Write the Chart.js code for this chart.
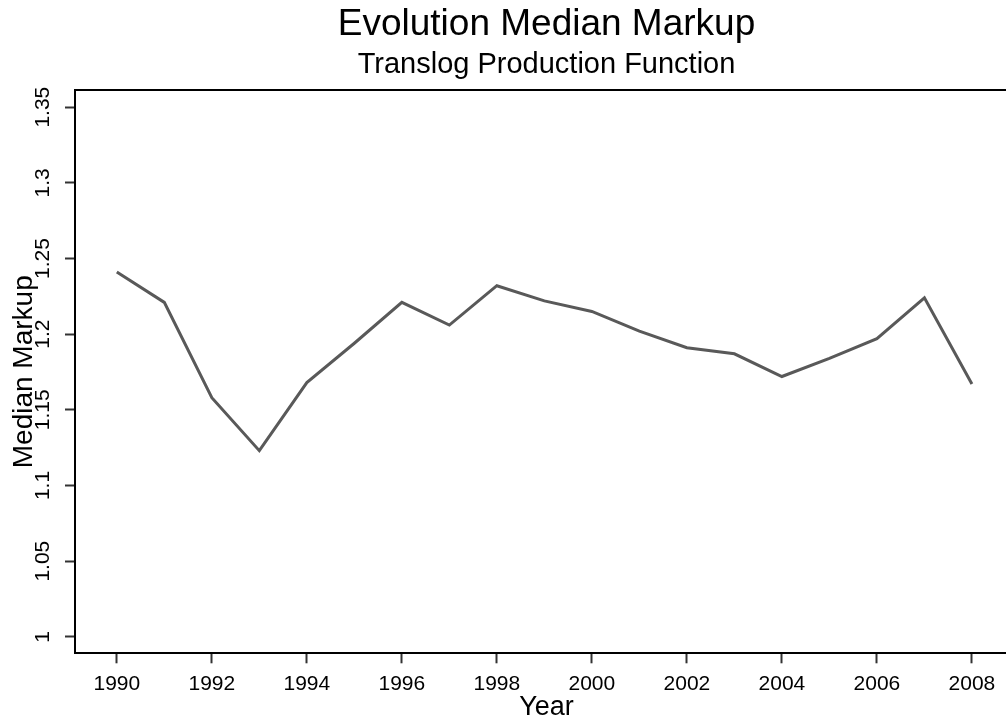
<!DOCTYPE html>
<html>
<head>
<meta charset="utf-8">
<title>Evolution Median Markup</title>
<script src="https://cdn.jsdelivr.net/npm/chart.js@4/dist/chart.umd.min.js"></script>
<style>
  html, body { margin: 0; padding: 0; background: #fff; overflow: hidden; }
  #wrap { width: 1018px; height: 722px; }
  canvas { display: block; }
</style>
</head>
<body>
<div id="wrap"><canvas id="markupChart" width="1018" height="722"></canvas></div>
<script>
// ==================== DATOS ====================
const years  = [1990, 1991, 1992, 1993, 1994, 1995, 1996, 1997, 1998, 1999,
                2000, 2001, 2002, 2003, 2004, 2005, 2006, 2007, 2008];
const markup = [1.241, 1.221, 1.158, 1.123, 1.168, 1.194, 1.221, 1.206, 1.232, 1.222,
                1.215, 1.202, 1.191, 1.187, 1.172, 1.184, 1.197, 1.224, 1.167];

const xTicks = [1990, 1992, 1994, 1996, 1998, 2000, 2002, 2004, 2006, 2008];
const yTicks = [1, 1.05, 1.1, 1.15, 1.2, 1.25, 1.3, 1.35];

const TITLE    = 'Evolution Median Markup';
const SUBTITLE = 'Translog Production Function';
const X_LABEL  = 'Year';
const Y_LABEL  = 'Median Markup';

// ==================== ESTILO ====================
const FONT = 'Liberation Sans, Arial, Helvetica, sans-serif';
const X_MIN = 1989.12, X_MAX = 2008.97;
const Y_MIN = 0.9891,  Y_MAX = 1.3612;

const points = years.map((y, i) => ({ x: y, y: markup[i] }));

new Chart(document.getElementById('markupChart'), {
  type: 'line',
  data: {
    datasets: [{
      data: points,
      borderColor: '#595959',
      borderWidth: 3,
      pointRadius: 0,
      tension: 0,
      fill: false
    }]
  },
  options: {
    responsive: false,
    animation: false,
    layout: { padding: 0 },
    plugins: {
      legend: { display: false },
      tooltip: { enabled: false },
      title: {
        display: true,
        text: TITLE,
        fullSize: false,
        color: '#000',
        font: { family: FONT, size: 37, weight: 'normal', lineHeight: 1.2 },
        padding: { top: 3, bottom: 0 }
      },
      subtitle: {
        display: true,
        text: SUBTITLE,
        fullSize: false,
        color: '#000',
        font: { family: FONT, size: 29, weight: 'normal', lineHeight: 1.2 },
        padding: { top: 0, bottom: 8 }
      }
    },
    scales: {
      x: {
        type: 'linear',
        position: 'bottom',
        min: X_MIN,
        max: X_MAX,
        afterBuildTicks: s => { s.ticks = xTicks.map(v => ({ value: v })); },
        afterFit: s => { s.height = 68.7; },
        grid: {
          drawOnChartArea: false,
          drawTicks: true,
          tickLength: 10,
          tickColor: '#333',
          tickWidth: 2
        },
        border: { display: true, color: '#000', width: 2 },
        ticks: {
          color: '#000',
          padding: 8,
          maxRotation: 0,
          autoSkip: false,
          font: { family: FONT, size: 21 },
          callback: v => String(v)
        },
        title: {
          display: true,
          text: X_LABEL,
          color: '#000',
          font: { family: FONT, size: 27, lineHeight: 1.1 },
          padding: { top: 0, bottom: 0 }
        }
      },
      xTop: {
        type: 'linear',
        position: 'top',
        min: X_MIN,
        max: X_MAX,
        afterFit: s => { s.height = 0; },
        grid: { display: false, drawTicks: false },
        border: { display: true, color: '#000', width: 2 },
        ticks: { display: false }
      },
      y: {
        type: 'linear',
        position: 'left',
        min: Y_MIN,
        max: Y_MAX,
        afterBuildTicks: s => { s.ticks = yTicks.map(v => ({ value: v })); },
        afterFit: s => { s.width = 75; },
        grid: {
          drawOnChartArea: false,
          drawTicks: true,
          tickLength: 10,
          tickColor: '#333',
          tickWidth: 2
        },
        border: { display: true, color: '#000', width: 2 },
        ticks: {
          color: '#000',
          padding: 1,
          minRotation: 90,
          maxRotation: 90,
          crossAlign: 'center',
          autoSkip: false,
          font: { family: FONT, size: 21 },
          callback: v => String(v)
        },
        title: {
          display: true,
          text: Y_LABEL,
          color: '#000',
          font: { family: FONT, size: 28, lineHeight: 1.1 },
          padding: { top: 9, bottom: 0 }
        }
      }
    }
  }
});
</script>
</body>
</html>
